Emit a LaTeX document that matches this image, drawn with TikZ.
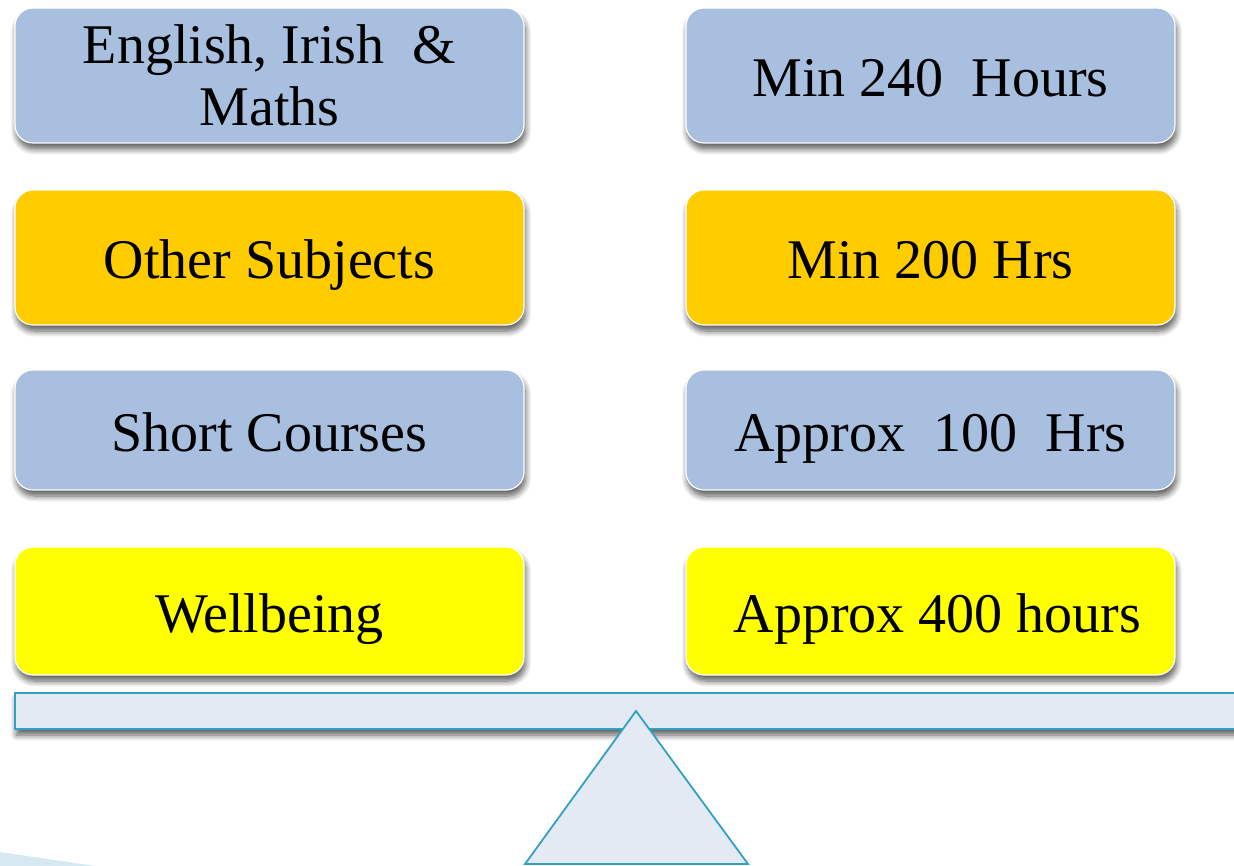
\documentclass[tikz,border=0pt]{standalone}
\usepackage{fontspec}
\setmainfont{Liberation Serif}
\usetikzlibrary{shadows.blur}

\definecolor{tileblue}{HTML}{A9BFE0}
\definecolor{tileorange}{HTML}{FFCC00}
\definecolor{tileyellow}{HTML}{FFFF00}
\definecolor{beamfill}{HTML}{E3EAF4}
\definecolor{beamline}{HTML}{31A2C2}
\definecolor{paleblue}{HTML}{D6E8F0}

\begin{document}
\begin{tikzpicture}[x=1pt,y=-1pt,
  softshadow/.style={blur shadow={shadow xshift=1.5pt, shadow yshift=-6pt,
    shadow blur radius=6pt, shadow blur steps=8, shadow opacity=65}},
  tilebase/.style={rounded corners=18pt, draw=white, line width=1.2pt,
    align=center, inner sep=0pt, font=\fontsize{56}{62}\selectfont, softshadow},
  tile/.style={tilebase, text height=42pt, text depth=0pt},
  beam/.style={draw=beamline, fill=beamfill, line width=1.8pt}]

% Page size of the picture
\useasboundingbox (0,0) rectangle (1234,866);

% Column centres and widths
\def\lx{269.5}
\def\rx{930.5}
\def\lw{509pt}
\def\rw{489pt}

% Row 1
\node[tilebase, fill=tileblue, minimum width=\lw, minimum height=135pt] (core) at (\lx,75.5)
  {English, Irish\ \ \&\\Maths};
\node[tile, fill=tileblue, minimum width=\rw, minimum height=135pt] (corehrs) at (\rx,75.5)
  {Min 240\ \ Hours};

% Row 2
\node[tile, fill=tileorange, minimum width=\lw, minimum height=135pt] (other) at (\lx,257.5)
  {Other Subjects};
\node[tile, fill=tileorange, minimum width=\rw, minimum height=135pt] (otherhrs) at (\rx,257.5)
  {Min 200 Hrs};

% Row 3
\node[tile, fill=tileblue, minimum width=\lw, minimum height=120pt] (short) at (\lx,430)
  {Short Courses};
\node[tile, fill=tileblue, minimum width=\rw, minimum height=120pt] (shorthrs) at (\rx,430)
  {Approx\ \ 100\ \ Hrs};

% Row 4
\node[tile, fill=tileyellow, minimum width=\lw, minimum height=128pt] (well) at (\lx,611)
  {Wellbeing};
\node[tile, fill=tileyellow, minimum width=\rw, minimum height=128pt] (wellhrs) at (\rx,611)
  {\ Approx 400 hours};

% The balance: beam and pivot
\begin{scope}
  \clip (0,0) rectangle (1234,866);
  \fill[paleblue] (0,852) -- (95,866) -- (0,866) -- cycle;
  \draw[beam, softshadow] (15,693) rectangle (1250,729);
  \draw[beam] (636,711) -- (748,864) -- (525,864) -- cycle;
\end{scope}

\end{tikzpicture}
\end{document}
